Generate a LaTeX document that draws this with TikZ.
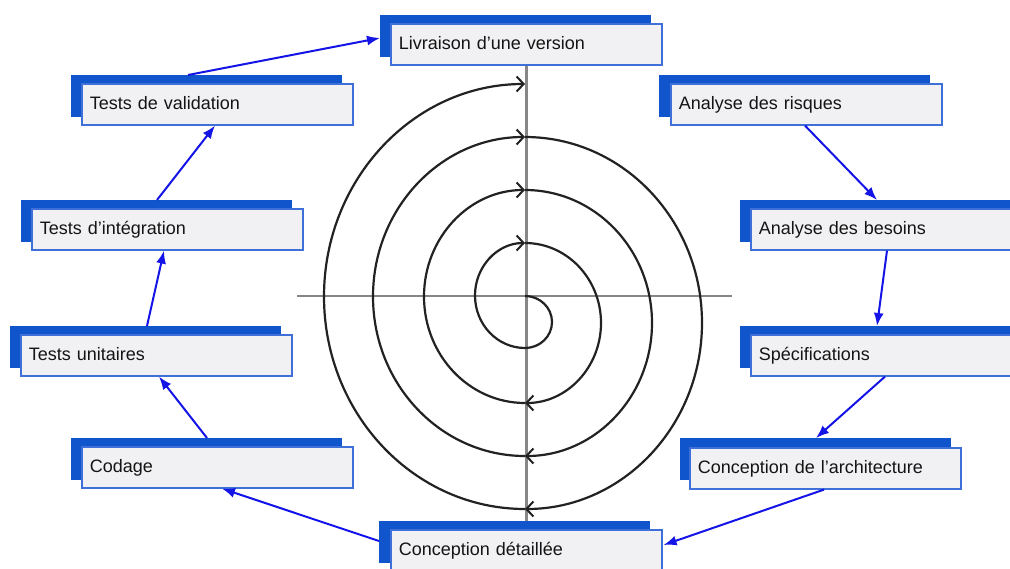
\documentclass[tikz,border=0pt]{standalone}
\usepackage{fontspec}
\setmainfont{Liberation Sans}
\usetikzlibrary{arrows.meta,calc}
\definecolor{backblue}{RGB}{17,85,204}
\definecolor{frontline}{RGB}{63,111,216}
\definecolor{frontfill}{RGB}{241,241,243}
\definecolor{connblue}{RGB}{20,20,230}
\definecolor{spiralcol}{RGB}{34,34,34}
\definecolor{axiscol}{RGB}{135,135,135}
\newcommand{\boxfont}{\fontsize{18}{21}\selectfont}
\tikzset{
  frontbox/.style={draw=frontline, line width=1.6pt, fill=frontfill, anchor=north west,
    minimum height=41pt, text width=255pt, inner xsep=8pt, inner ysep=0pt,
    text height=14pt, text depth=3pt, font=\boxfont, text=black!92, align=left},
  backbox/.style={fill=backblue, minimum width=271pt, minimum height=42pt, inner sep=0pt, anchor=north west},
  conn/.style={draw=connblue, line width=2pt, -{Latex[length=13pt,width=10pt]}},
  spir/.style={line width=2.2pt, draw=spiralcol, -{Straight Barb[length=7pt,width=15pt,line width=2pt]}},
  axisline/.style={line width=2.6pt, draw=axiscol}
}
\begin{document}
\begin{tikzpicture}[x=1pt,y=-1pt]
\useasboundingbox (0,0) rectangle (1010,568);
\fill[white] (0,0) rectangle (1010,568);

% back boxes
\node[backbox] (livb)  at (380,15)  {};
\node[backbox] (valb)  at (71,75)   {};
\node[backbox] (intb)  at (21,200)  {};
\node[backbox] (unib)  at (10,326)  {};
\node[backbox] (codb)  at (71,438)  {};
\node[backbox] (detb)  at (379,521) {};
\node[backbox] (riskb) at (659,75)  {};
\node[backbox] (besb)  at (740,200) {};
\node[backbox] (specb) at (740,326) {};
\node[backbox] (archb) at (680,438) {};

% front boxes
\node[frontbox] (liv)  at (390,23)  {Livraison d’une version};
\node[frontbox] (val)  at (81,83)   {Tests de validation};
\node[frontbox] (int)  at (31,208)  {Tests d’intégration};
\node[frontbox] (uni)  at (20,334)  {Tests unitaires};
\node[frontbox] (cod)  at (81,446)  {Codage};
\node[frontbox] (det)  at (390,529) {Conception détaillée};
\node[frontbox] (risk) at (670,83)  {Analyse des risques};
\node[frontbox] (bes)  at (750,208) {Analyse des besoins};
\node[frontbox] (spec) at (750,334) {Spécifications};
\node[frontbox] (arch) at (689,447) {Conception de l’architecture};

% axes
\draw[axisline] (297,296) -- (732,296);
\draw[axisline] (liv.south) -- (liv.south |- detb.north);

% spiral
\draw[spir] (525,296) arc[start angle=-90, end angle=90, x radius=27, y radius=26]
                      arc[start angle=90, end angle=270, x radius=50, y radius=52.5];
\draw[spir] (525,243) arc[start angle=-90, end angle=90, x radius=76, y radius=80];
\draw[spir] (525,403) arc[start angle=90, end angle=270, x radius=101, y radius=106.5];
\draw[spir] (525,190) arc[start angle=-90, end angle=90, x radius=127, y radius=133];
\draw[spir] (525,456) arc[start angle=90, end angle=270, x radius=152, y radius=159.5];
\draw[spir] (525,137) arc[start angle=-90, end angle=90, x radius=177, y radius=186];
\draw[spir] (525,509) arc[start angle=90, end angle=270, x radius=201, y radius=212.5];

% connectors
\draw[conn] ($(valb.north west)+(117,0)$) -- ($(livb.north west)+(0,23)$);
\draw[conn] ($(risk.south west)+(135,0)$) -- ($(besb.north west)+(137,0)$);
\draw[conn] ($(bes.south west)+(137,0)$) -- ($(specb.north west)+(137,0)$);
\draw[conn] ($(spec.south west)+(135,0)$) -- ($(archb.north west)+(136,0)$);
\draw[conn] ($(arch.south west)+(135,0)$) -- ($(det.north east)+(1,16)$);
\draw[conn] ($(detb.north west)+(0,20)$) -- ($(cod.south west)+(141,0)$);
\draw[conn] ($(codb.north west)+(136,0)$) -- ($(uni.south west)+(139,0)$);
\draw[conn] ($(unib.north west)+(137,0)$) -- ($(int.south west)+(133,0)$);
\draw[conn] ($(intb.north west)+(136,0)$) -- ($(val.south west)+(134,0)$);
\end{tikzpicture}
\end{document}
